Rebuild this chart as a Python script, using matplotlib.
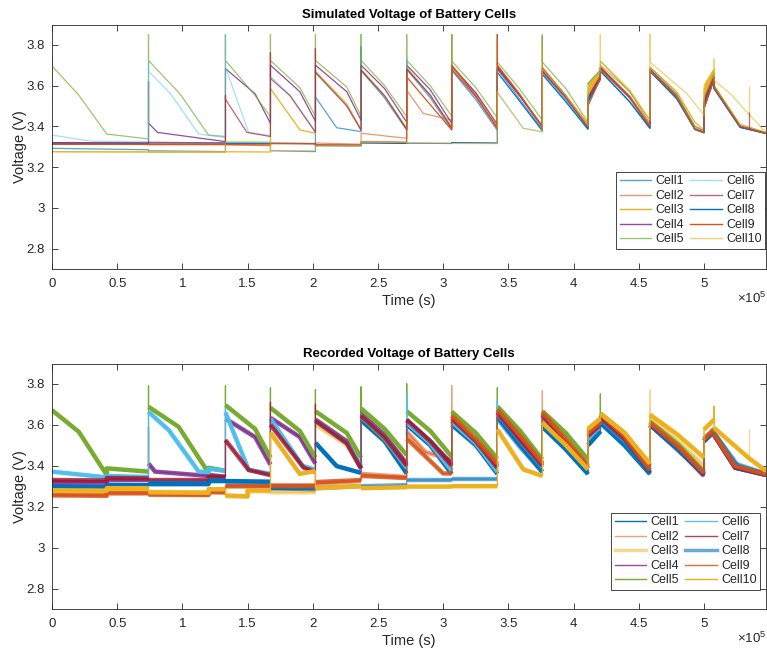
import numpy as np
import matplotlib.pyplot as plt
from matplotlib.lines import Line2D
from matplotlib.ticker import FuncFormatter, MultipleLocator

plt.rcParams['font.family'] = ['Liberation Sans', 'DejaVu Sans']
plt.rcParams['mathtext.fontset'] = 'custom'
plt.rcParams['mathtext.rm'] = 'Liberation Sans'

# event times (s): start of each charge / discharge segment
event_t = [0, 0.74e5, 1.33e5, 1.675e5, 2.02e5, 2.37e5, 2.72e5, 3.065e5, 3.415e5,
           3.76e5, 4.11e5, 4.205e5, 4.585e5, 5.0e5, 5.077e5, 5.475e5]

cell_names = ['Cell%d' % i for i in range(1, 11)]
cell_colors = ['#0072BD', '#D95319', '#EDB120', '#7E2F8E', '#77AC30',
               '#4DBEEE', '#A2142F', '#0072BD', '#D95319', '#EDB120']

# ---- simulated voltages: one entry per segment, [v_start, (t, v) knees..., v_end]
sim_c1 = [[3.292, 3.285], [3.28, 3.276], [3.317, 3.316], [3.28, 3.276],
          [3.544, (2.183e5, 3.393), 3.374], [3.675, (2.55e5, 3.54), 3.382],
          [3.68, (2.90e5, 3.54), 3.385], [3.675, (3.25e5, 3.53), 3.38],
          [3.68, (3.59e5, 3.53), 3.385], [3.665, (3.94e5, 3.53), 3.39],
          [3.52, 3.632], [3.675, (4.43e5, 3.52), 3.39],
          [3.675, (4.79e5, 3.54), (4.93e5, 3.385), 3.37], [3.49, 3.63],
          [3.59, (5.276e5, 3.40), 3.366]]
sim_c2 = [[3.315, 3.313], [3.318, 3.32], [3.31, 3.305], [3.317, 3.316],
          [3.318, 3.312], [3.366, 3.341], [3.577, (2.847e5, 3.463), 3.431],
          [3.70, (3.25e5, 3.56), 3.395], [3.70, (3.59e5, 3.55), 3.40],
          [3.69, (3.94e5, 3.55), 3.41], [3.55, 3.65],
          [3.69, (4.43e5, 3.55), 3.41],
          [3.68, (4.79e5, 3.555), (4.93e5, 3.40), 3.38], [3.50, 3.64],
          [3.595, (5.276e5, 3.40), 3.368]]
sim_c3 = [[3.275, 3.274], [3.273, 3.273], [3.275, 3.274],
          [3.585, (1.902e5, 3.382), 3.366], [3.67, (2.26e5, 3.51), 3.385],
          [3.68, (2.55e5, 3.55), 3.39], [3.69, (2.90e5, 3.55), 3.40],
          [3.69, (3.25e5, 3.55), 3.40], [3.69, (3.59e5, 3.55), 3.40],
          [3.68, (3.94e5, 3.55), 3.41], [3.56, 3.66],
          [3.70, (4.43e5, 3.57), 3.43],
          [3.69, (4.79e5, 3.57), (4.93e5, 3.42), 3.38], [3.58, 3.67],
          [3.60, (5.276e5, 3.41), 3.37]]
sim_c4 = [[3.32, 3.319], [3.415, (0.81e5, 3.37), 3.325],
          [3.683, (1.557e5, 3.56), 3.415], [3.70, (1.90e5, 3.57), 3.425],
          [3.70, (2.26e5, 3.57), 3.43], [3.70, (2.55e5, 3.585), 3.42],
          [3.70, (2.90e5, 3.58), 3.415], [3.695, (3.25e5, 3.565), 3.41],
          [3.69, (3.59e5, 3.55), 3.40], [3.675, (3.94e5, 3.545), 3.40],
          [3.54, 3.645], [3.69, (4.43e5, 3.545), 3.40],
          [3.68, (4.79e5, 3.55), (4.93e5, 3.39), 3.372], [3.52, 3.645],
          [3.585, (5.276e5, 3.395), 3.365]]
sim_c5 = [[3.696, (0.205e5, 3.553), (0.42e5, 3.362), 3.338],
          [3.723, (0.984e5, 3.557), (1.2e5, 3.357), 3.35],
          [3.723, (1.557e5, 3.552), 3.447], [3.723, (1.90e5, 3.59), 3.45],
          [3.723, (2.26e5, 3.593), 3.45], [3.723, (2.55e5, 3.60), 3.447],
          [3.723, (2.90e5, 3.60), 3.45], [3.72, (3.25e5, 3.59), 3.44],
          [3.715, (3.59e5, 3.58), 3.43], [3.715, (3.94e5, 3.585), 3.42],
          [3.61, 3.675], [3.72, (4.43e5, 3.57), 3.415],
          [3.69, (4.79e5, 3.56), (4.93e5, 3.40), 3.375], [3.54, 3.66],
          [3.60, (5.276e5, 3.40), 3.366]]
sim_c6 = [[3.357, (0.3e5, 3.327), 3.325],
          [3.67, (0.907e5, 3.561), (1.125e5, 3.362), 3.345],
          [3.69, (1.508e5, 3.37), 3.355], [3.645, (1.825e5, 3.553), 3.375],
          [3.66, (2.26e5, 3.50), 3.385], [3.67, (2.55e5, 3.54), 3.38],
          [3.68, (2.90e5, 3.55), 3.39], [3.675, (3.25e5, 3.54), 3.385],
          [3.565, (3.614e5, 3.39), 3.372], [3.665, (3.94e5, 3.535), 3.392],
          [3.53, 3.64], [3.68, (4.43e5, 3.535), 3.395],
          [3.675, (4.79e5, 3.545), (4.93e5, 3.39), 3.37], [3.50, 3.64],
          [3.59, (5.276e5, 3.405), 3.367]]
sim_c7 = [[3.318, 3.317], [3.322, 3.318], [3.533, (1.495e5, 3.37), 3.35],
          [3.635, (1.825e5, 3.55), 3.37], [3.665, (2.26e5, 3.50), 3.38],
          [3.675, (2.55e5, 3.55), 3.385], [3.68, (2.90e5, 3.555), 3.39],
          [3.68, (3.25e5, 3.545), 3.39], [3.685, (3.59e5, 3.545), 3.395],
          [3.67, (3.94e5, 3.54), 3.395], [3.535, 3.64],
          [3.685, (4.43e5, 3.54), 3.395],
          [3.67, (4.79e5, 3.54), (4.93e5, 3.385), 3.368], [3.51, 3.64],
          [3.585, (5.276e5, 3.40), 3.366]]
sim_c8 = [[3.313, 3.313], [3.313, 3.313], [3.317, 3.317], [3.317, 3.315],
          [3.305, 3.304], [3.318, 3.316], [3.317, 3.316], [3.32, 3.318],
          [3.665, (3.59e5, 3.52), 3.378], [3.655, (3.94e5, 3.52), 3.385],
          [3.52, 3.63], [3.67, (4.43e5, 3.52), 3.39],
          [3.67, (4.79e5, 3.535), (4.93e5, 3.385), 3.368], [3.49, 3.63],
          [3.585, (5.276e5, 3.395), 3.364]]
sim_c9 = [[3.312, 3.311], [3.31, 3.31], [3.31, 3.309], [3.315, 3.314],
          [3.31, 3.309], [3.325, 3.322], [3.642, 3.382],
          [3.70, (3.25e5, 3.55), 3.39], [3.70, (3.59e5, 3.555), 3.395],
          [3.685, (3.94e5, 3.55), 3.40], [3.50, 3.635],
          [3.68, (4.43e5, 3.54), 3.40],
          [3.675, (4.79e5, 3.545), (4.93e5, 3.385), 3.37], [3.488, 3.634],
          [3.59, (5.276e5, 3.40), 3.366]]
sim_c10 = [[3.276, 3.275], [3.275, 3.274], [3.325, 3.324], [3.282, 3.28],
           [3.305, 3.304], [3.325, 3.322], [3.317, 3.316], [3.316, 3.315],
           [3.569, (3.614e5, 3.39), 3.374], [3.68, (3.94e5, 3.55), 3.405],
           [3.58, 3.67], [3.72, (4.43e5, 3.58), 3.43],
           [3.715, (4.867e5, 3.561), 3.455], [3.60, 3.683],
           [3.626, (5.2e5, 3.561), (5.343e5, 3.46), 3.37]]

# (event index, cell number, peak voltage)
sim_spikes = [(0, 5, 3.74), (0, 6, 3.53), (1, 5, 3.85), (1, 6, 3.72), (1, 4, 3.62),
              (2, 6, 3.85), (2, 5, 3.85), (2, 7, 3.55), (3, 5, 3.85), (3, 7, 3.76),
              (4, 5, 3.85), (4, 7, 3.78), (5, 5, 3.85), (5, 1, 3.79),
              (6, 5, 3.85), (6, 6, 3.74), (6, 2, 3.72), (7, 2, 3.85), (7, 5, 3.85),
              (8, 9, 3.85), (8, 6, 3.85), (9, 5, 3.85), (9, 2, 3.84),
              (11, 10, 3.85), (12, 10, 3.85), (14, 10, 3.73)]
# short pulses inside a segment: (time, cell, base, peak)
sim_blips = [(5.343e5, 10, 3.46, 3.60), (5.343e5, 7, 3.39, 3.47)]

# pulsed charging bands
band1_t = [4.11e5, 4.205e5]
band1_hi = [3.61, 3.675]
band1_mid = [3.544, 3.645]
band1_lo = [3.523, 3.634]
band2_t = [5.0e5, 5.077e5]
band2_hi = [3.61, 3.69]
band2_mid = [3.56, 3.66]
band2_lo = [3.488, 3.634]

# ---- recorded voltages
rec_c1 = [[3.30, (0.42e5, 3.298), (0.42e5, 3.306), 3.305],
          [3.31, (1.2e5, 3.31), (1.2e5, 3.325), 3.325], [3.325, 3.322],
          [3.29, 3.285], [3.512, (2.183e5, 3.398), 3.365],
          [3.622, (2.55e5, 3.52), 3.362], [3.60, (2.90e5, 3.50), 3.36],
          [3.60, (3.25e5, 3.50), 3.36], [3.64, (3.59e5, 3.50), 3.37],
          [3.59, (3.94e5, 3.48), 3.36], [3.50, 3.57],
          [3.61, (4.39e5, 3.50), 3.36], [3.60, (4.80e5, 3.48), 3.36],
          [3.52, 3.57], [3.55, (5.238e5, 3.39), 3.355]]
rec_c2 = [[3.26, (0.42e5, 3.258), (0.42e5, 3.27), 3.268],
          [3.258, (1.2e5, 3.256), (1.2e5, 3.27), 3.27], [3.30, 3.30],
          [3.305, 3.305], [3.31, 3.325], [3.36, 3.345],
          [3.566, (2.86e5, 3.468), 3.427], [3.64, (3.25e5, 3.52), 3.40],
          [3.665, (3.59e5, 3.53), 3.405], [3.655, (3.94e5, 3.52), 3.40],
          [3.56, 3.61], [3.645, (4.39e5, 3.54), 3.38],
          [3.61, (4.80e5, 3.495), 3.37], [3.53, 3.58],
          [3.555, (5.238e5, 3.40), 3.36]]
rec_c3 = [[3.275, (0.42e5, 3.272), (0.42e5, 3.28), 3.28],
          [3.272, (1.2e5, 3.27), (1.2e5, 3.28), 3.28],
          [3.25, (1.5e5, 3.25), (1.5e5, 3.275), 3.275], [3.27, 3.27],
          [3.60, (2.26e5, 3.50), 3.39], [3.64, (2.55e5, 3.53), 3.39],
          [3.62, (2.90e5, 3.51), 3.38], [3.62, (3.25e5, 3.51), 3.38],
          [3.66, (3.59e5, 3.53), 3.40], [3.65, (3.94e5, 3.52), 3.39],
          [3.58, 3.63], [3.655, (4.39e5, 3.555), 3.40],
          [3.63, (4.80e5, 3.52), 3.40], [3.577, 3.625],
          [3.56, (5.238e5, 3.41), 3.36]]
rec_c4 = [[3.32, (0.42e5, 3.318), (0.42e5, 3.33), 3.33],
          [3.411, (0.79e5, 3.371), (1.2e5, 3.35), (1.2e5, 3.355), 3.346],
          [3.63, (1.557e5, 3.54), 3.405], [3.634, (1.90e5, 3.54), 3.41],
          [3.626, (2.26e5, 3.52), 3.39], [3.655, (2.55e5, 3.55), 3.41],
          [3.62, (2.90e5, 3.52), 3.41], [3.62, (3.25e5, 3.52), 3.40],
          [3.665, (3.59e5, 3.535), 3.41], [3.65, (3.94e5, 3.52), 3.39],
          [3.55, 3.60], [3.64, (4.39e5, 3.535), 3.37],
          [3.60, (4.80e5, 3.48), 3.35], [3.52, 3.575],
          [3.55, (5.238e5, 3.39), 3.355]]
rec_c5 = [[3.671, (0.205e5, 3.566), (0.42e5, 3.354), (0.42e5, 3.387), 3.371],
          [3.688, (0.971e5, 3.59), (1.2e5, 3.365), (1.2e5, 3.39), 3.375],
          [3.696, (1.557e5, 3.58), 3.44], [3.683, (1.90e5, 3.57), 3.44],
          [3.666, (2.26e5, 3.56), 3.439], [3.68, (2.55e5, 3.58), 3.452],
          [3.666, (2.90e5, 3.57), 3.444], [3.664, (3.25e5, 3.56), 3.434],
          [3.69, (3.59e5, 3.57), 3.43], [3.667, (3.94e5, 3.56), 3.43],
          [3.57, 3.615], [3.655, (4.39e5, 3.56), 3.40],
          [3.615, (4.80e5, 3.505), 3.37], [3.53, 3.58],
          [3.555, (5.238e5, 3.40), 3.36]]
rec_c6 = [[3.371, (0.42e5, 3.343), (0.42e5, 3.35), 3.345],
          [3.663, (0.895e5, 3.574), (1.125e5, 3.371), (1.2e5, 3.37), (1.2e5, 3.385), 3.375],
          [3.66, (1.508e5, 3.38), 3.36], [3.63, (1.92e5, 3.40), 3.38],
          [3.62, (2.26e5, 3.51), 3.40], [3.645, (2.55e5, 3.54), 3.39],
          [3.61, (2.90e5, 3.51), 3.375], [3.615, (3.25e5, 3.51), 3.37],
          [3.655, (3.59e5, 3.52), 3.39], [3.635, (3.94e5, 3.51), 3.38],
          [3.53, 3.59], [3.625, (4.39e5, 3.52), 3.365],
          [3.605, (4.80e5, 3.485), 3.36], [3.525, 3.575],
          [3.56, (5.238e5, 3.41), 3.36]]
rec_c7 = [[3.33, (0.42e5, 3.328), (0.42e5, 3.34), 3.338],
          [3.33, (1.2e5, 3.33), (1.2e5, 3.346), 3.345],
          [3.525, (1.508e5, 3.379), 3.354], [3.60, (1.93e5, 3.39), 3.37],
          [3.62, (2.26e5, 3.51), 3.385], [3.645, (2.55e5, 3.54), 3.40],
          [3.625, (2.90e5, 3.52), 3.40], [3.63, (3.25e5, 3.52), 3.39],
          [3.66, (3.59e5, 3.525), 3.40], [3.645, (3.94e5, 3.515), 3.385],
          [3.545, 3.60], [3.635, (4.39e5, 3.53), 3.365],
          [3.60, (4.80e5, 3.485), 3.355], [3.52, 3.57],
          [3.55, (5.238e5, 3.395), 3.355]]
rec_c8 = [[3.295, (0.42e5, 3.293), (0.42e5, 3.30), 3.30],
          [3.318, (1.2e5, 3.316), (1.2e5, 3.33), 3.33], [3.32, 3.318],
          [3.30, 3.30], [3.29, 3.30], [3.30, 3.305], [3.33, 3.33],
          [3.335, 3.335], [3.63, (3.59e5, 3.49), 3.37],
          [3.60, (3.94e5, 3.48), 3.36], [3.50, 3.565],
          [3.61, (4.39e5, 3.50), 3.36], [3.60, (4.80e5, 3.475), 3.36],
          [3.52, 3.565], [3.56, (5.26e5, 3.40), 3.36]]
rec_c9 = [[3.255, (0.42e5, 3.253), (0.42e5, 3.265), 3.265],
          [3.26, (1.2e5, 3.258), (1.2e5, 3.272), 3.27], [3.30, 3.30],
          [3.30, 3.30], [3.32, 3.33], [3.35, 3.34],
          [3.533, (3.0e5, 3.362), 3.362], [3.645, (3.25e5, 3.53), 3.41],
          [3.675, (3.59e5, 3.545), 3.415], [3.66, (3.94e5, 3.53), 3.40],
          [3.56, 3.61], [3.65, (4.39e5, 3.545), 3.38],
          [3.61, (4.80e5, 3.495), 3.365], [3.53, 3.575],
          [3.553, (5.238e5, 3.398), 3.358]]
rec_c10 = [[3.28, (0.42e5, 3.278), (0.42e5, 3.29), 3.29],
           [3.27, (1.2e5, 3.268), (1.2e5, 3.285), 3.285],
           [3.255, (1.5e5, 3.25), (1.5e5, 3.28), 3.278],
           [3.561, (1.90e5, 3.36), 3.374], [3.29, 3.30], [3.29, 3.295],
           [3.298, 3.298], [3.30, 3.30], [3.577, (3.614e5, 3.382), 3.35],
           [3.61, (3.94e5, 3.50), 3.382], [3.58, 3.63],
           [3.655, (4.39e5, 3.56), 3.41], [3.65, (4.80e5, 3.55), 3.439],
           [3.577, 3.625], [3.585, (5.34e5, 3.439), 3.374]]

rec_spikes = [(1, 5, 3.79), (1, 6, 3.66), (1, 4, 3.59), (2, 5, 3.79), (2, 6, 3.68),
              (3, 5, 3.78), (3, 7, 3.71), (4, 5, 3.77), (4, 7, 3.70),
              (5, 5, 3.785), (5, 1, 3.73), (6, 5, 3.80), (6, 6, 3.75),
              (7, 2, 3.79), (8, 5, 3.78), (8, 6, 3.72), (9, 2, 3.765),
              (11, 5, 3.75), (12, 3, 3.77), (14, 10, 3.69)]
rec_blips = [(5.343e5, 3, 3.42, 3.58)]

sim_cells = [sim_c1, sim_c2, sim_c3, sim_c4, sim_c5, sim_c6, sim_c7, sim_c8, sim_c9, sim_c10]
rec_cells = [rec_c1, rec_c2, rec_c3, rec_c4, rec_c5, rec_c6, rec_c7, rec_c8, rec_c9, rec_c10]

sim_alpha = [0.65, 0.6, 1.0, 0.85, 0.7, 0.5, 0.65, 1.0, 1.0, 0.6]
rec_alpha = [1.0, 0.55, 0.5, 0.85, 1.0, 0.95, 0.8, 0.6, 0.85, 1.0]
rec_legend_lw = [1, 1, 2.5, 1, 1, 1, 1, 2.5, 1, 1]


def cell_path(segments, spikes, cell, with_spikes=True, gaps=False):
    xs, ys = [], []
    for k, seg in enumerate(segments):
        t0, t1 = event_t[k], event_t[k + 1]
        if with_spikes:
            for ev, c, peak in spikes:
                if ev == k and c == cell:
                    xs.append(t0)
                    ys.append(peak)
        xs.append(t0)
        ys.append(seg[0])
        for t, v in seg[1:-1]:
            xs.append(t)
            ys.append(v)
        xs.append(t1)
        ys.append(seg[-1])
        if gaps:
            xs.append(np.nan)
            ys.append(np.nan)
    return np.array(xs), np.array(ys)


def style_axes(ax, title):
    ax.set_xlim(0, 5.475e5)
    ax.set_ylim(2.70, 3.897)
    ax.xaxis.set_major_locator(MultipleLocator(0.5e5))
    ax.xaxis.set_major_formatter(FuncFormatter(lambda x, p: '%g' % round(x / 1e5, 2)))
    ax.yaxis.set_major_locator(MultipleLocator(0.2))
    ax.yaxis.set_major_formatter(FuncFormatter(lambda y, p: '%g' % round(y, 2)))
    ax.tick_params(direction='in', top=True, right=True, length=4.5, width=0.6,
                   color='#262626', labelcolor='#262626', labelsize=9.5)
    ax.tick_params(axis='x', pad=6.5)
    ax.tick_params(axis='y', pad=5)
    for s in ax.spines.values():
        s.set_color('#262626')
        s.set_linewidth(0.6)
    ax.set_title(title, fontsize=9.5, fontweight='bold', color='black', pad=5)
    ax.set_xlabel('Time (s)', fontsize=10.5, color='#262626', labelpad=3)
    ax.set_ylabel('Voltage (V)', fontsize=10.5, color='#262626', labelpad=0)
    ax.text(1.0, -0.138, r'$\times\mathregular{10^5}$', transform=ax.transAxes,
            ha='right', va='baseline', fontsize=9.5, color='#262626')


def add_legend(ax, alphas, widths, anchor):
    handles = [Line2D([], [], color=cell_colors[i], alpha=alphas[i], lw=widths[i])
               for i in range(10)]
    leg = ax.legend(handles, cell_names, ncol=2, loc='lower right', bbox_to_anchor=anchor,
                    borderaxespad=0, fontsize=9, handlelength=2.5, handletextpad=0.35,
                    columnspacing=0.5, labelspacing=0.2, borderpad=0.28,
                    fancybox=False, framealpha=1, edgecolor='#262626')
    leg.get_frame().set_linewidth(0.6)
    for txt in leg.get_texts():
        txt.set_color('#262626')


fig = plt.figure(figsize=(7.67, 6.48), dpi=100)
ax1 = fig.add_axes([0.0678, 0.5849, 0.9309, 0.3765])
ax2 = fig.add_axes([0.0678, 0.0602, 0.9309, 0.3781])

# simulated
for i, segs in enumerate(sim_cells):
    x, y = cell_path(segs, sim_spikes, i + 1)
    ax1.plot(x, y, color=cell_colors[i], alpha=sim_alpha[i], lw=0.9)
for t, c, base, peak in sim_blips:
    ax1.vlines(t, base, peak, color=cell_colors[c - 1], alpha=sim_alpha[c - 1], lw=0.9)
ax1.fill_between(band1_t, band1_lo, band1_mid, color='#0072BD', lw=0)
ax1.fill_between(band1_t, band1_mid, band1_hi, color='#EDB120', lw=0)
ax1.plot(band1_t, band1_hi, color='#77AC30', lw=0.9, alpha=0.8)
ax1.fill_between(band2_t, band2_lo, band2_mid, color='#D95319', lw=0)
ax1.fill_between(band2_t, band2_mid, band2_hi, color='#EDB120', lw=0)
style_axes(ax1, 'Simulated Voltage of Battery Cells')
add_legend(ax1, sim_alpha, [1.0] * 10, (0.9986, 0.082))

# recorded: wide strokes for the measurement band, thin strokes for jumps
for i, segs in enumerate(rec_cells):
    x, y = cell_path(segs, rec_spikes, i + 1, with_spikes=False, gaps=True)
    ax2.plot(x, y, color=cell_colors[i], alpha=rec_alpha[i], lw=3.2,
             solid_capstyle='butt')
    x, y = cell_path(segs, rec_spikes, i + 1)
    ax2.plot(x, y, color=cell_colors[i], alpha=rec_alpha[i], lw=0.9)
for t, c, base, peak in rec_blips:
    ax2.vlines(t, base, peak, color=cell_colors[c - 1], alpha=rec_alpha[c - 1], lw=0.9)
style_axes(ax2, 'Recorded Voltage of Battery Cells')
add_legend(ax2, rec_alpha, rec_legend_lw, (0.9916, 0.078))

fig.savefig('out.png', dpi=100, facecolor='white')
